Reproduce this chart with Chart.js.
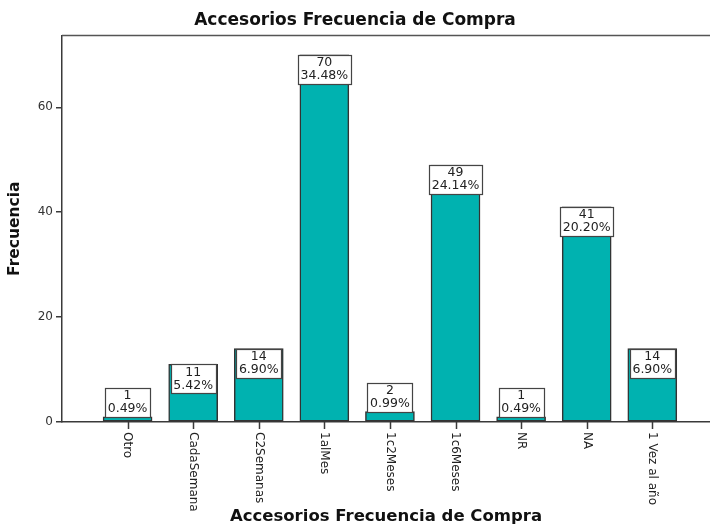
<!DOCTYPE html>
<html>
<head>
<meta charset="utf-8">
<script src="https://cdn.jsdelivr.net/npm/chart.js@4.4.0/dist/chart.umd.min.js"></script>
<style>
    html, body { margin: 0; padding: 0; background: #fff; overflow: hidden; }
    #wrap { width: 710px; height: 527px; position: relative; }
</style>
</head>
<body>
<div id="wrap"><canvas id="frecuencia-compra"></canvas></div>
<script>
    "use strict";

    // Datos
    var categorias = ["Otro", "CadaSemana", "C2Semanas", "1alMes", "1c2Meses", "1c6Meses", "NR", "NA", "1 Vez al año"];
    var frecuencias = [1, 11, 14, 70, 2, 49, 1, 41, 14];
    var ticksY = [0, 20, 40, 60];

    var total = frecuencias.reduce(function (a, b) { return a + b; }, 0);
    var tealBar = "rgb(0, 178, 176)";
    var gris = "#3a3a3a";

    // Etiquetas de cada barra: frecuencia y porcentaje en una caja blanca
    var etiquetasBarras = {
        id: "etiquetasBarras",
        afterDatasetsDraw: function (chart) {
            var ctx = chart.ctx;
            var meta = chart.getDatasetMeta(0);
            ctx.save();
            ctx.font = "12.5px 'DejaVu Sans'";
            ctx.textAlign = "center";
            ctx.textBaseline = "middle";
            meta.data.forEach(function (bar, i) {
                var v = frecuencias[i];
                var pct = (v / total * 100).toFixed(2) + "%";
                var w = Math.ceil(Math.max(ctx.measureText(String(v)).width, ctx.measureText(pct).width)) + 5;
                var h = 29;
                var top = (bar.base - bar.y) > h ? bar.y : bar.y - h;
                var left = Math.round(bar.x - w / 2) + 0.5;
                ctx.fillStyle = "#fff";
                ctx.fillRect(left, Math.round(top) + 0.5, w, h);
                ctx.strokeStyle = "#444";
                ctx.lineWidth = 1.2;
                ctx.strokeRect(left, Math.round(top) + 0.5, w, h);
                ctx.fillStyle = "#222";
                ctx.fillText(String(v), bar.x, top + 8);
                ctx.fillText(pct, bar.x, top + 21);
            });
            ctx.restore();
        },
        afterDraw: function (chart) {
            // marcas y nombres de categoría girados en el eje X
            var ctx = chart.ctx;
            var x = chart.scales.x;
            var base = chart.chartArea.bottom;
            ctx.save();
            ctx.strokeStyle = gris;
            ctx.lineWidth = 1.5;
            categorias.forEach(function (c, i) {
                var px = Math.round(x.getPixelForValue(i)) + 0.5;
                ctx.beginPath();
                ctx.moveTo(px, base);
                ctx.lineTo(px, base + 7);
                ctx.stroke();
            });
            ctx.font = "12px 'DejaVu Sans'";
            ctx.fillStyle = "#222";
            ctx.textAlign = "left";
            ctx.textBaseline = "middle";
            categorias.forEach(function (c, i) {
                ctx.save();
                ctx.translate(x.getPixelForValue(i), base + 10);
                ctx.rotate(Math.PI / 2);
                ctx.fillText(c, 0, 0);
                ctx.restore();
            });
            // línea superior del marco
            ctx.strokeStyle = "#555";
            ctx.lineWidth = 1.5;
            ctx.beginPath();
            ctx.moveTo(chart.chartArea.left, chart.chartArea.top);
            ctx.lineTo(chart.chartArea.right, chart.chartArea.top);
            ctx.stroke();
            ctx.restore();
        }
    };

    var ctx1 = document.getElementById("frecuencia-compra").getContext("2d");
    var grafico = new Chart(ctx1, {
        type: "bar",
        data: {
            datasets: [{
                label: "Frecuencia",
                data: frecuencias.map(function (v, i) { return { x: i, y: v }; }),
                backgroundColor: tealBar,
                borderColor: "#333",
                borderWidth: 1.5,
                borderSkipped: false,
                barThickness: 49
            }]
        },
        options: {
            responsive: true,
            maintainAspectRatio: false,
            animation: false,
            layout: { padding: { left: 0, right: 0, top: 0, bottom: 0 } },
            plugins: {
                legend: { display: false },
                tooltip: { enabled: false },
                title: {
                    display: true,
                    text: "Accesorios Frecuencia de Compra",
                    color: "#111",
                    font: { family: "'DejaVu Sans'", size: 17, weight: "bold" },
                    padding: { top: 10, bottom: 5 }
                }
            },
            scales: {
                x: {
                    type: "linear",
                    offset: false,
                    min: -1,
                    max: 8.88,
                    afterBuildTicks: function (s) {
                        s.ticks = categorias.map(function (c, i) { return { value: i }; });
                    },
                    afterFit: function (s) { s.height = 105; },
                    ticks: { display: false },
                    grid: {
                        offset: false,
                        drawOnChartArea: false,
                        drawTicks: false,
                        color: gris,
                        lineWidth: 1.5
                    },
                    border: { color: gris, width: 1.5 },
                    title: {
                        display: true,
                        text: "Accesorios Frecuencia de Compra",
                        color: "#111",
                        font: { family: "'DejaVu Sans'", size: 16.5, weight: "bold" },
                        padding: { top: 0, bottom: 0 }
                    }
                },
                y: {
                    min: 0,
                    max: 73.7,
                    afterFit: function (s) { s.width = 62; },
                    afterBuildTicks: function (s) {
                        s.ticks = ticksY.map(function (v) { return { value: v }; });
                    },
                    ticks: {
                        color: "#333",
                        padding: 3,
                        font: { family: "'DejaVu Sans'", size: 12 }
                    },
                    grid: {
                        drawOnChartArea: false,
                        drawTicks: true,
                        tickLength: 6,
                        color: gris,
                        lineWidth: 1.5
                    },
                    border: { color: gris, width: 1.5 },
                    title: {
                        display: true,
                        text: "Frecuencia",
                        color: "#111",
                        font: { family: "'DejaVu Sans'", size: 15.5, weight: "bold" },
                        padding: { top: 6, bottom: 0 }
                    }
                }
            }
        },
        plugins: [etiquetasBarras]
    });
</script>
</body>
</html>
